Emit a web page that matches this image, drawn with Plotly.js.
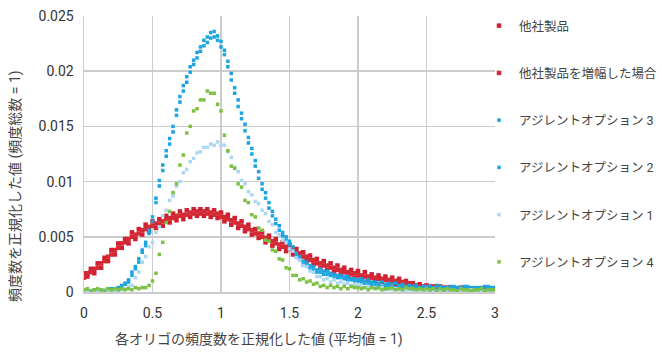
<!DOCTYPE html>
<html><head><meta charset="utf-8">
<script src="https://cdn.plot.ly/plotly-3.0.1.min.js"></script>
<style>html,body{margin:0;padding:0;background:#fff;}#chart{width:662px;height:354px;}</style>
</head><body><div id="chart"></div>
<script>
const xValues = [
0,0.025,0.05,0.075,0.1,0.125,0.15,0.175,0.2,0.225,
0.25,0.275,0.3,0.325,0.35,0.375,0.4,0.425,0.45,0.475,
0.5,0.525,0.55,0.575,0.6,0.625,0.65,0.675,0.7,0.725,
0.75,0.775,0.8,0.825,0.85,0.875,0.9,0.925,0.95,0.975,
1.0,1.025,1.05,1.075,1.1,1.125,1.15,1.175,1.2,1.225,
1.25,1.275,1.3,1.325,1.35,1.375,1.4,1.425,1.45,1.475,
1.5,1.525,1.55,1.575,1.6,1.625,1.65,1.675,1.7,1.725,
1.75,1.775,1.8,1.825,1.85,1.875,1.9,1.925,1.95,1.975,
2.0,2.025,2.05,2.075,2.1,2.125,2.15,2.175,2.2,2.225,
2.25,2.275,2.3,2.325,2.35,2.375,2.4,2.425,2.45,2.475,
2.5,2.525,2.55,2.575,2.6,2.625,2.65,2.675,2.7,2.725,
2.75,2.775,2.8,2.825,2.85,2.875,2.9,2.925,2.95,2.975,
3.0];

const seriesNames = ["他社製品","他社製品を増幅した場合","アジレントオプション 3","アジレントオプション 2","アジレントオプション 1","アジレントオプション 4"];

const otherProduct = [
0.0017,0.0014,0.0021,0.0017,0.0026,0.0022,0.0031,0.0028,0.0038,0.0034,
0.0044,0.0040,0.0048,0.0044,0.0054,0.0048,0.0057,0.0052,0.0061,0.0055,
0.0064,0.0058,0.0066,0.0060,0.0069,0.0063,0.0071,0.0065,0.0073,0.0066,
0.0074,0.0068,0.0075,0.0069,0.0075,0.0069,0.0075,0.0068,0.0074,0.0067,
0.0072,0.0064,0.0070,0.0061,0.0067,0.0058,0.0064,0.0055,0.0061,0.0052,
0.0057,0.0049,0.0054,0.0045,0.0051,0.0042,0.0048,0.0039,0.0045,0.0037,
0.0043,0.0034,0.0039,0.0031,0.0036,0.0028,0.0033,0.0025,0.0030,0.0022,
0.0028,0.0020,0.0026,0.0018,0.0024,0.0016,0.0022,0.0014,0.0020,0.0013,
0.0019,0.0011,0.0018,0.0011,0.0016,0.0010,0.0015,0.0009,0.0014,0.0008,
0.0013,0.0007,0.0012,0.0006,0.0010,0.0005,0.0008,0.0004,0.0007,0.0003,
0.0006,0.0003,0.0005,0.0002,0.0005,0.0002,0.0004,0.0002,0.0004,0.0001,
0.0004,0.0001,0.0003,0.0001,0.0003,0.0002,0.0003,0.0001,0.0003,0.0001,
0.0002];

const otherAmplified = [
0.0013,0.0017,0.0018,0.0021,0.0022,0.0026,0.0028,0.0032,0.0034,0.0038,
0.0040,0.0044,0.0045,0.0048,0.0050,0.0052,0.0053,0.0056,0.0057,0.0059,
0.0060,0.0062,0.0062,0.0064,0.0065,0.0067,0.0067,0.0069,0.0069,0.0070,
0.0070,0.0072,0.0071,0.0073,0.0071,0.0073,0.0071,0.0072,0.0070,0.0071,
0.0068,0.0068,0.0066,0.0065,0.0063,0.0062,0.0060,0.0059,0.0057,0.0056,
0.0053,0.0053,0.0050,0.0049,0.0047,0.0046,0.0044,0.0043,0.0041,0.0041,
0.0039,0.0038,0.0035,0.0035,0.0032,0.0032,0.0029,0.0029,0.0026,0.0026,
0.0024,0.0024,0.0022,0.0022,0.0020,0.0020,0.0018,0.0018,0.0016,0.0017,
0.0015,0.0015,0.0014,0.0014,0.0013,0.0013,0.0012,0.0012,0.0011,0.0011,
0.0010,0.0010,0.0009,0.0009,0.0008,0.0008,0.0007,0.0006,0.0005,0.0005,
0.0002,0.0005,0.0002,0.0005,0.0001,0.0004,0.0001,0.0004,0.0001,0.0003,
0.0001,0.0003,0.0001,0.0003,0.0001,0.0003,0.0001,0.0002,0.0001,0.0003,
0.0001];

const agilentOpt3 = [
0.0001,0.0000,0.0001,0.0002,0.0001,0.0000,0.0002,0.0003,0.0002,0.0003,
0.0004,0.0006,0.0007,0.0011,0.0018,0.0023,0.0030,0.0038,0.0045,0.0056,
0.0064,0.0085,0.0096,0.0115,0.0123,0.0139,0.0145,0.0165,0.0172,0.0187,
0.0190,0.0204,0.0206,0.0217,0.0218,0.0228,0.0226,0.0235,0.0231,0.0232,
0.0222,0.0219,0.0204,0.0198,0.0180,0.0174,0.0157,0.0152,0.0135,0.0130,
0.0114,0.0109,0.0093,0.0090,0.0076,0.0073,0.0062,0.0060,0.0051,0.0050,
0.0043,0.0041,0.0032,0.0032,0.0025,0.0027,0.0021,0.0023,0.0018,0.0021,
0.0016,0.0019,0.0015,0.0016,0.0013,0.0015,0.0012,0.0014,0.0011,0.0012,
0.0010,0.0012,0.0008,0.0011,0.0007,0.0009,0.0007,0.0009,0.0006,0.0008,
0.0005,0.0008,0.0004,0.0007,0.0004,0.0006,0.0004,0.0006,0.0003,0.0005,
0.0003,0.0005,0.0003,0.0006,0.0002,0.0004,0.0003,0.0005,0.0002,0.0004,
0.0003,0.0005,0.0002,0.0004,0.0003,0.0004,0.0002,0.0005,0.0003,0.0004,
0.0003];

const agilentOpt2 = [
0.0000,0.0001,0.0001,0.0000,0.0002,0.0001,0.0001,0.0002,0.0003,0.0002,
0.0003,0.0005,0.0008,0.0009,0.0015,0.0021,0.0027,0.0036,0.0042,0.0053,
0.0068,0.0081,0.0101,0.0110,0.0128,0.0134,0.0150,0.0160,0.0177,0.0182,
0.0195,0.0199,0.0210,0.0212,0.0222,0.0223,0.0231,0.0230,0.0236,0.0228,
0.0227,0.0215,0.0209,0.0192,0.0185,0.0168,0.0162,0.0146,0.0140,0.0125,
0.0119,0.0103,0.0098,0.0085,0.0081,0.0069,0.0066,0.0056,0.0054,0.0047,
0.0046,0.0037,0.0035,0.0029,0.0028,0.0024,0.0024,0.0020,0.0020,0.0018,
0.0019,0.0016,0.0017,0.0014,0.0015,0.0013,0.0014,0.0011,0.0012,0.0010,
0.0011,0.0009,0.0010,0.0008,0.0009,0.0006,0.0008,0.0005,0.0007,0.0005,
0.0007,0.0004,0.0006,0.0004,0.0005,0.0003,0.0005,0.0003,0.0004,0.0003,
0.0005,0.0002,0.0004,0.0003,0.0005,0.0002,0.0004,0.0003,0.0005,0.0002,
0.0004,0.0003,0.0005,0.0002,0.0004,0.0003,0.0004,0.0002,0.0005,0.0003,
0.0004];

const agilentOpt1 = [
0.0001,0.0000,0.0001,0.0001,0.0000,0.0001,0.0002,0.0001,0.0001,0.0002,
0.0001,0.0002,0.0003,0.0005,0.0006,0.0013,0.0018,0.0027,0.0032,0.0041,
0.0045,0.0054,0.0059,0.0069,0.0074,0.0083,0.0087,0.0096,0.0100,0.0108,
0.0111,0.0118,0.0121,0.0126,0.0127,0.0131,0.0131,0.0134,0.0133,0.0136,
0.0133,0.0133,0.0127,0.0122,0.0113,0.0109,0.0101,0.0098,0.0091,0.0088,
0.0082,0.0080,0.0074,0.0071,0.0064,0.0061,0.0054,0.0052,0.0047,0.0045,
0.0039,0.0037,0.0031,0.0029,0.0024,0.0023,0.0019,0.0018,0.0014,0.0014,
0.0011,0.0012,0.0009,0.0011,0.0008,0.0009,0.0007,0.0008,0.0006,0.0007,
0.0005,0.0006,0.0004,0.0005,0.0004,0.0004,0.0003,0.0004,0.0002,0.0003,
0.0002,0.0003,0.0002,0.0002,0.0001,0.0002,0.0001,0.0002,0.0001,0.0002,
0.0001,0.0002,0.0001,0.0001,0.0001,0.0002,0.0001,0.0001,0.0001,0.0001,
0.0001,0.0001,0.0001,0.0002,0.0001,0.0001,0.0001,0.0001,0.0001,0.0001,
0.0001];

const agilentOpt4 = [
0.0002,0.0003,0.0001,0.0002,0.0003,0.0002,0.0001,0.0003,0.0002,0.0003,
0.0002,0.0003,0.0002,0.0003,0.0002,0.0004,0.0003,0.0004,0.0004,0.0006,
0.0010,0.0017,0.0034,0.0045,0.0063,0.0073,0.0090,0.0098,0.0115,0.0124,
0.0144,0.0150,0.0164,0.0166,0.0174,0.0174,0.0182,0.0180,0.0180,0.0170,
0.0164,0.0142,0.0128,0.0114,0.0112,0.0098,0.0095,0.0083,0.0081,0.0070,
0.0068,0.0058,0.0056,0.0047,0.0046,0.0038,0.0037,0.0030,0.0029,0.0022,
0.0021,0.0015,0.0015,0.0011,0.0012,0.0009,0.0010,0.0007,0.0008,0.0005,
0.0006,0.0004,0.0006,0.0004,0.0005,0.0003,0.0005,0.0003,0.0005,0.0004,
0.0004,0.0003,0.0004,0.0002,0.0004,0.0003,0.0004,0.0002,0.0003,0.0003,
0.0004,0.0002,0.0003,0.0002,0.0004,0.0003,0.0003,0.0002,0.0003,0.0002,
0.0003,0.0002,0.0003,0.0001,0.0003,0.0002,0.0003,0.0002,0.0002,0.0001,
0.0003,0.0002,0.0002,0.0001,0.0002,0.0002,0.0003,0.0001,0.0002,0.0002,
0.0002];

const xTickVals = [0,0.5,1,1.5,2,2.5,3];
const xTickText = ["0","0.5","1","1.5","2","2.5","3"];
const yTickVals = [0,0.005,0.01,0.015,0.02,0.025];
const yTickText = ["0","0.005","0.01","0.015","0.02","0.025"];

const xTitle = "各オリゴの頻度数を正規化した値 (平均値 = 1)";
const yTitle = "頻度数を正規化した値 (頻度総数 = 1)";

const seriesValues = [otherProduct, otherAmplified, agilentOpt3, agilentOpt2, agilentOpt1, agilentOpt4];
const colors = ["#d01f2f","#d42a35","#1ba1df","#1fa7e2","#aad8f3","#7cc142"];
const markerSizes = [4.5, 4.5, 3.5, 3.5, 3.5, 3.5];

const FONT = "Roboto, 'Noto Sans CJK JP', sans-serif";

const traces = seriesValues.map((vals, i) => ({
  type: "scatter",
  mode: "markers",
  name: seriesNames[i],
  legendgroup: "g" + i,
  x: xValues,
  y: vals,
  marker: {symbol: "square", size: markerSizes[i], color: colors[i]},
  hoverinfo: "skip"
}));

const PL = 84, PR = 495, PT = 16, PB = 292;
const PW = PR - PL, PH = PB - PT;

const layout = {
  width: 662, height: 354,
  margin: {l: PL, r: 662 - PR, t: PT, b: 354 - PB, autoexpand: false},
  paper_bgcolor: "#fff", plot_bgcolor: "#fff",
  font: {family: FONT, color: "#333", size: 14},
  showlegend: true,
  legend: {
    x: (479 - PL) / PW, xanchor: "left", y: (PB - 11) / PH, yanchor: "top",
    xref: "paper", yref: "paper", maxheight: 340,
    font: {family: FONT, size: 12.5, color: "#444"},
    tracegroupgap: 28,
    bgcolor: "rgba(0,0,0,0)"
  },
  xaxis: {
    range: [0, 3], tickvals: xTickVals, ticktext: xTickText,
    showgrid: true, gridcolor: "#cccccc", gridwidth: 1.5,
    zeroline: false, showline: true, linecolor: "#cccccc", linewidth: 1.5,
    ticks: "", ticklabelstandoff: 8,
    tickfont: {size: 14, color: "#333"}, fixedrange: true
  },
  yaxis: {
    range: [0, 0.025], tickvals: yTickVals, ticktext: yTickText,
    showgrid: true, gridcolor: "#cccccc", gridwidth: 1.5,
    zeroline: false, showline: true, linecolor: "#cccccc", linewidth: 1.5,
    ticks: "", ticklabelstandoff: 6,
    tickfont: {size: 14, color: "#333"}, fixedrange: true
  },
  annotations: [
    {text: xTitle, xref: "paper", yref: "paper", x: (259 - PL) / PW, y: -(340 - PB) / PH,
     xanchor: "center", yanchor: "middle", showarrow: false,
     font: {family: FONT, size: 14, color: "#444"}},
    {text: yTitle, xref: "paper", yref: "paper", x: (15 - PL) / PW, y: (PB - 186) / PH,
     xanchor: "center", yanchor: "middle", showarrow: false, textangle: -90,
     font: {family: FONT, size: 14, color: "#444"}}
  ]
};

Plotly.newPlot("chart", traces, layout, {displayModeBar: false, staticPlot: true});
</script>
</body></html>
